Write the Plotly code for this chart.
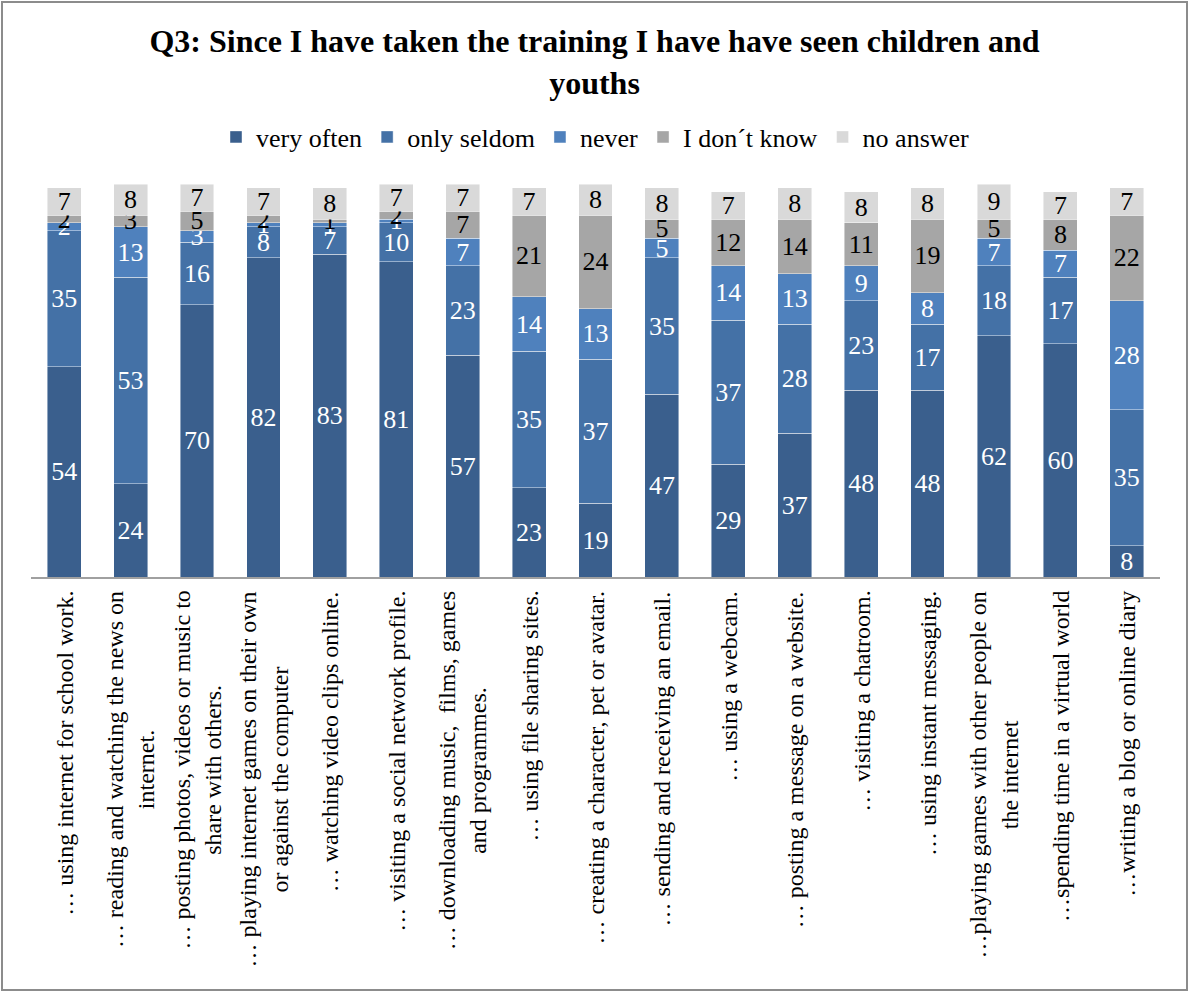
import plotly.graph_objects as go

categories = [
    "… using internet for school work.",
    "… reading and watching the news on<br>internet.",
    "… posting photos, videos or music to<br>share with others.",
    "… playing internet games on their own<br>or against the computer",
    "… watching video clips online.",
    "… visiting a social network profile.",
    "… downloading music,  films, games<br>and programmes.",
    "… using file sharing sites.",
    "… creating a character, pet or avatar.",
    "… sending and receiving an email.",
    "… using a webcam.",
    "… posting a message on a website.",
    "… visiting a chatroom.",
    "… using instant messaging.",
    "…playing games with other people on<br>the internet",
    "…spending time in a virtual world",
    "…writing a blog or online diary",
]

very_often = [54, 24, 70, 82, 83, 81, 57, 23, 19, 47, 29, 37, 48, 48, 62, 60, 8]
only_seldom = [35, 53, 16, 8, 7, 10, 23, 35, 37, 35, 37, 28, 23, 17, 18, 17, 35]
never = [2, 13, 3, 1, 1, 1, 7, 14, 13, 5, 14, 13, 9, 8, 7, 7, 28]
dont_know = [2, 3, 5, 2, 1, 2, 7, 21, 24, 5, 12, 14, 11, 19, 5, 8, 22]
no_answer = [7, 8, 7, 7, 8, 7, 7, 7, 8, 8, 7, 8, 8, 8, 9, 7, 7]

series = [
    ("very often", very_often, "#3A5F8D", "white"),
    ("only seldom", only_seldom, "#4471A6", "white"),
    ("never", never, "#4F81BD", "white"),
    ("I don´t know", dont_know, "#A6A6A6", "black"),
    ("no answer", no_answer, "#D9D9D9", "black"),
]

FONT = "Liberation Serif, Times New Roman, serif"
x_idx = list(range(len(categories)))

fig = go.Figure()
for name, vals, color, tcolor in series:
    fig.add_trace(go.Bar(
        name=name, x=x_idx, y=vals,
        marker=dict(color=color, line=dict(color="rgba(255,255,255,0.55)", width=0.8)),
        text=[str(v) for v in vals], textposition="inside", insidetextanchor="middle",
        textangle=0, textfont=dict(family=FONT, size=26, color=tcolor),
        hoverinfo="skip",
    ))

W, H = 1189, 994
ml, mr, mt, mb = 31, 29, 184, 417
ph = H - mt - mb
pw = W - ml - mr

for i, lab in enumerate(categories):
    fig.add_annotation(
        x=i, xref="x", y=-12 / ph, yref="paper", text=lab, showarrow=False,
        textangle=-90, xanchor="center", yanchor="top", align="center",
        font=dict(family=FONT, size=24, color="black"),
    )

fig.add_shape(type="rect", xref="paper", yref="paper",
              x0=(2 - ml) / pw, x1=(1187 - ml) / pw,
              y0=-(990 - (H - mb)) / ph, y1=((H - mb) - 2) / ph,
              line=dict(color="#8C8C8C", width=2), fillcolor="rgba(0,0,0,0)", layer="below")

fig.update_layout(
    width=W, height=H, barmode="stack", bargap=0.49,
    margin=dict(l=ml, r=mr, t=mt, b=mb),
    plot_bgcolor="white", paper_bgcolor="white",
    font=dict(family=FONT, color="black"),
    title=dict(text="<b>Q3: Since I have taken the training I have have seen children and<br>youths</b>",
               x=0.5, xref="container", xanchor="center", y=1 - 52 / H, yref="container", yanchor="middle",
               font=dict(family=FONT, size=32, color="black")),
    legend=dict(orientation="h", x=0.5, xanchor="center", y=(H - mb - 137) / ph, yanchor="middle",
                font=dict(family=FONT, size=26, color="black"), traceorder="normal"),
    uniformtext=dict(mode="show", minsize=26),
    showlegend=True,
)
fig.update_xaxes(range=[-0.5, len(categories) - 0.5], showticklabels=False, ticks="",
                 showline=True, linecolor="#A0A0A0", linewidth=2, showgrid=False, zeroline=False)
fig.update_yaxes(range=[0, 101], visible=False, showgrid=False, zeroline=False)

fig.write_html("out.html", config={"displayModeBar": False},
               post_script="document.body.style.margin='0';document.body.style.overflow='hidden';")
